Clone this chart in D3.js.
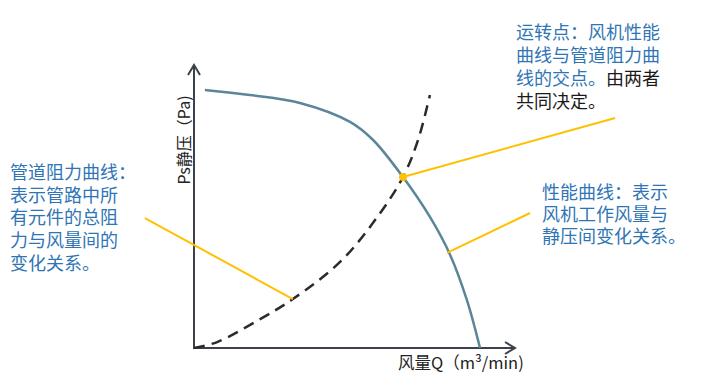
<!DOCTYPE html>
<html>
<head>
<meta charset="utf-8">
<script src="https://cdn.jsdelivr.net/npm/d3@7"></script>
<style>
  body { margin: 0; background: #fff; }
  svg { display: block; font-family: "Noto Sans CJK SC", "Noto Sans", sans-serif; }
</style>
</head>
<body>
<div id="chart"></div>
<script>
// fan performance curve (Q, Ps) in relative units
var perfQ  = [3.4, 17.4, 33.0, 48.6, 55.8, 65.1, 73.5, 79.8, 85.0, 89.1];
var perfPs = [91.2, 89.4, 86.6, 79.9, 73.5, 60.4, 46.3, 32.9, 17.0, 0];

// duct resistance curve
var ductQ  = [0, 7.2, 20.6, 30.8, 45.5, 56.4, 65.1, 69.8, 73.5];
var ductPs = [0, 2.1, 10.2, 17.3, 30.4, 45.2, 60.4, 73.5, 89.4];

// operating point
var opQ = 65.1, opPs = 60.4;

// leader lines: [fromQ, fromPs, toQ, toPs]
var leaders = [
  [65.1, 60.4, 131.2, 81.3],
  [-15.3, 45.9, 30.8, 17.3],
  [78.8, 33.6, 104.7, 47.7]
];

var xLabel = "风量Q（m³/min)";
var yLabel = "Ps静压（Pa)";

var noteLeft = ["管道阻力曲线：", "表示管路中所", "有元件的总阻", "力与风量间的", "变化关系。"];
var notePerf = ["性能曲线：表示", "风机工作风量与", "静压间变化关系。"];
// each line is a list of [text, isBlue]
var noteOp = [
  [["运转点：风机性能", true]],
  [["曲线与管道阻力曲", true]],
  [["线的交点。", true], ["由两者", false]],
  [["共同决定。", false]]
];

var width = 703, height = 389;
var blue = "#2f75b5", yellow = "#ffc000";

var x = d3.scaleLinear().domain([0, 100]).range([194, 515]);
var y = d3.scaleLinear().domain([0, 100]).range([348, 65]);

var svg = d3.select("#chart").append("svg")
  .attr("width", width)
  .attr("height", height);

// axes
var axisColor = "#3c414c";
svg.append("line")
  .attr("x1", x(0)).attr("y1", y(0))
  .attr("x2", x(0)).attr("y2", y(100))
  .attr("stroke", axisColor).attr("stroke-width", 2);
svg.append("line")
  .attr("x1", x(0) - 1).attr("y1", y(0))
  .attr("x2", x(100)).attr("y2", y(0))
  .attr("stroke", axisColor).attr("stroke-width", 2);
// arrow heads
svg.append("path")
  .attr("d", "M" + (x(0) - 6) + "," + (y(100) + 10) + "L" + x(0) + "," + y(100) + "L" + (x(0) + 6) + "," + (y(100) + 10))
  .attr("fill", "none").attr("stroke", axisColor).attr("stroke-width", 2);
svg.append("path")
  .attr("d", "M" + (x(100) - 10) + "," + (y(0) - 6) + "L" + x(100) + "," + y(0) + "L" + (x(100) - 10) + "," + (y(0) + 6))
  .attr("fill", "none").attr("stroke", axisColor).attr("stroke-width", 2);

// curves
var line = d3.line()
  .x(function(d) { return x(d[0]); })
  .y(function(d) { return y(d[1]); })
  .curve(d3.curveCatmullRom);

svg.append("path")
  .datum(ductQ.map(function(q, i) { return [q, ductPs[i]]; }))
  .attr("d", line)
  .attr("fill", "none")
  .attr("stroke", "#2b2b2b")
  .attr("stroke-width", 2.5)
  .attr("stroke-dasharray", "11,7");

svg.append("path")
  .datum(perfQ.map(function(q, i) { return [q, perfPs[i]]; }))
  .attr("d", line)
  .attr("fill", "none")
  .attr("stroke", "#5b8699")
  .attr("stroke-width", 2.5);

// leader lines
svg.selectAll(".leader")
  .data(leaders)
  .enter().append("line")
  .attr("class", "leader")
  .attr("x1", function(d) { return x(d[0]); })
  .attr("y1", function(d) { return y(d[1]); })
  .attr("x2", function(d) { return x(d[2]); })
  .attr("y2", function(d) { return y(d[3]); })
  .attr("stroke", yellow)
  .attr("stroke-width", 2);

svg.append("circle")
  .attr("cx", x(opQ)).attr("cy", y(opPs))
  .attr("r", 4).attr("fill", yellow);

// axis labels
svg.append("text")
  .attr("x", 398).attr("y", 369)
  .attr("font-size", 16.5).attr("fill", "#222")
  .text(xLabel);
svg.append("text")
  .attr("transform", "translate(183,140) rotate(-90)")
  .attr("text-anchor", "middle")
  .attr("dominant-baseline", "central")
  .attr("font-size", 16).attr("fill", "#222")
  .text(yLabel);

// notes, one text element per line
function block(lines, x0, y0, step) {
  lines.forEach(function(s, i) {
    svg.append("text")
      .attr("x", x0).attr("y", y0 + i * step)
      .attr("font-size", 18).attr("fill", blue)
      .text(s);
  });
}
block(noteLeft, 10, 179, 22.7);
block(notePerf, 542, 199, 22);

noteOp.forEach(function(parts, i) {
  var t = svg.append("text")
    .attr("x", 516).attr("y", 39 + i * 23)
    .attr("font-size", 18);
  parts.forEach(function(p) {
    t.append("tspan")
      .attr("fill", p[1] ? blue : "#1a1a1a")
      .text(p[0]);
  });
});
</script>
</body>
</html>
